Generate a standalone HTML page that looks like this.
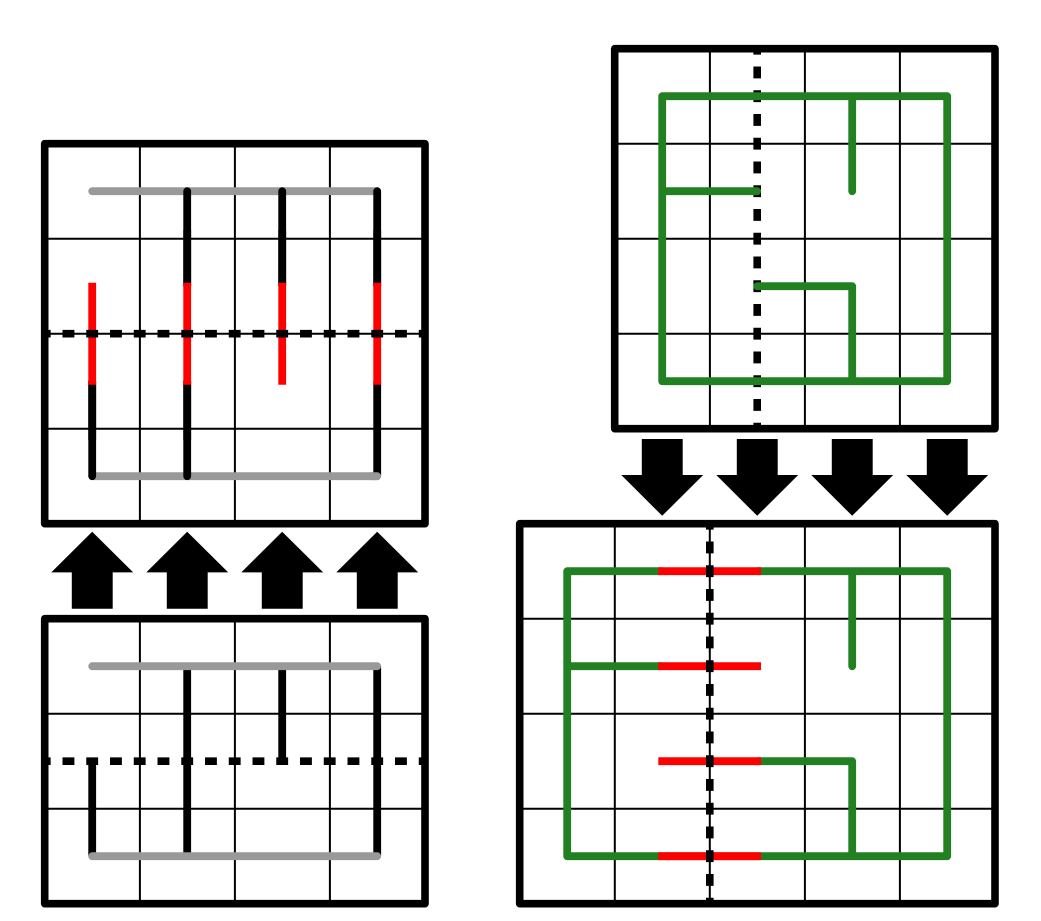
<!DOCTYPE html>
<html>
<head>
<meta charset="utf-8">
<style>
html,body{margin:0;padding:0;background:#fff;width:1041px;height:921px;overflow:hidden}
svg{display:block}
.g{stroke:#000;stroke-width:2;fill:none}
.b{stroke:#000;stroke-width:7.6;fill:none;stroke-linejoin:round}
.d{stroke:#000;stroke-width:7.6;fill:none;stroke-dasharray:11.875 11.875;stroke-dashoffset:5.94}
.k{stroke:#000;stroke-width:7.8;fill:none}
.r{stroke:#ff0000;stroke-width:7.8;fill:none}
.y{stroke:#999;stroke-width:7.8;fill:none;stroke-linecap:round}
.n{stroke:#000;stroke-width:7.8;fill:none;stroke-linecap:round}
.v{stroke:#228022;stroke-width:7.8;fill:none;stroke-linecap:round;stroke-linejoin:round}
</style>
</head>
<body>
<svg width="1041" height="921" viewBox="0 0 1041 921" xmlns="http://www.w3.org/2000/svg">
<rect width="1041" height="921" fill="#fff"/>

<!-- Top-left panel -->
<path class="g" d="M139.9 143.7V523.7M234.9 143.7V523.7M329.9 143.7V523.7M44.7 238.7H425M44.7 333.7H425M44.7 428.7H425"/>
<path class="y" d="M92.2 191.2H377.2M92.2 476.2H377.2"/>
<path class="n" d="M187.2 191.2V286M282.2 191.2V286M377.2 191.2V286"/>
<path class="k" d="M187.2 230V286M282.2 230V286M377.2 230V286"/>
<path class="n" d="M92.2 476.2V381M187.2 476.2V381"/>
<path class="k" d="M92.2 440V381M187.2 440V381M377.2 476V381"/>
<path class="y" d="M370 476.2H377.2"/>
<path class="r" d="M92.2 282.7V384.7M187.2 282.7V384.7M282.2 282.7V384.7M377.2 282.7V384.7"/>
<path class="d" d="M44.7 333.7H425"/>
<rect class="b" x="44.7" y="143.7" width="380.3" height="380"/>

<!-- Up arrows -->
<g fill="#000">
<polygon points="92.2,531.7 133.2,572.4 112.7,572.4 112.7,608.8 71.8,608.8 71.8,572.4 51.3,572.4"/>
<polygon points="187.2,531.7 228.2,572.4 207.7,572.4 207.7,608.8 166.8,608.8 166.8,572.4 146.3,572.4"/>
<polygon points="282.2,531.7 323.2,572.4 302.7,572.4 302.7,608.8 261.8,608.8 261.8,572.4 241.3,572.4"/>
<polygon points="377.2,531.7 418.2,572.4 397.7,572.4 397.7,608.8 356.8,608.8 356.8,572.4 336.3,572.4"/>
</g>

<!-- Bottom-left panel -->
<path class="g" d="M139.9 618.7V903.7M234.9 618.7V903.7M329.9 618.7V903.7M44.7 713.7H425M44.7 808.7H425"/>
<path class="k" d="M92.2 761.2V856M187.2 666V856M282.2 666V761.2M377.2 666V856"/>
<path class="y" d="M92.2 666.2H377.2M92.2 856.2H377.2"/>
<path class="d" d="M44.7 761.2H425"/>
<rect class="b" x="44.7" y="618.7" width="380.3" height="285"/>

<!-- Top-right panel -->
<path class="g" d="M709.9 48.7V428.7M804.9 48.7V428.7M899.9 48.7V428.7M614.7 143.7H995M614.7 238.7H995M614.7 333.7H995"/>
<path class="d" d="M757.2 48.7V428.7"/>
<path class="v" d="M662.2 96.2H947.2V381.2H662.2ZM852.2 96.2V191.2M662.2 191.2H757.2M757.2 286.2H852.2V381.2"/>
<rect class="b" x="614.7" y="48.7" width="380.3" height="380"/>

<!-- Down arrows -->
<g fill="#000">
<polygon points="662.2,515.8 703.2,475 682.7,475 682.7,439 641.8,439 641.8,475 621.3,475"/>
<polygon points="757.2,515.8 798.2,475 777.7,475 777.7,439 736.8,439 736.8,475 716.3,475"/>
<polygon points="852.2,515.8 893.2,475 872.7,475 872.7,439 831.8,439 831.8,475 811.3,475"/>
<polygon points="947.2,515.8 988.2,475 967.7,475 967.7,439 926.8,439 926.8,475 906.3,475"/>
</g>

<!-- Bottom-right panel -->
<path class="g" d="M614.8 523.7V903.7M709.8 523.7V903.7M804.9 523.7V903.7M899.9 523.7V903.7M519.7 618.7H995M519.7 713.7H995M519.7 808.7H995"/>
<path class="v" d="M662 571.2H567.2V856.2H947.2V571.2H758M852.2 571.2V666.2M567.2 666.2H662M758 761.2H852.2V856.2"/>
<path class="r" d="M658.3 571.2H761M658.3 666.2H761M658.3 761.2H761M658.3 856.2H761"/>
<path class="d" d="M709.8 523.7V903.7"/>
<rect class="b" x="519.7" y="523.7" width="475.3" height="380"/>
</svg>
</body>
</html>
